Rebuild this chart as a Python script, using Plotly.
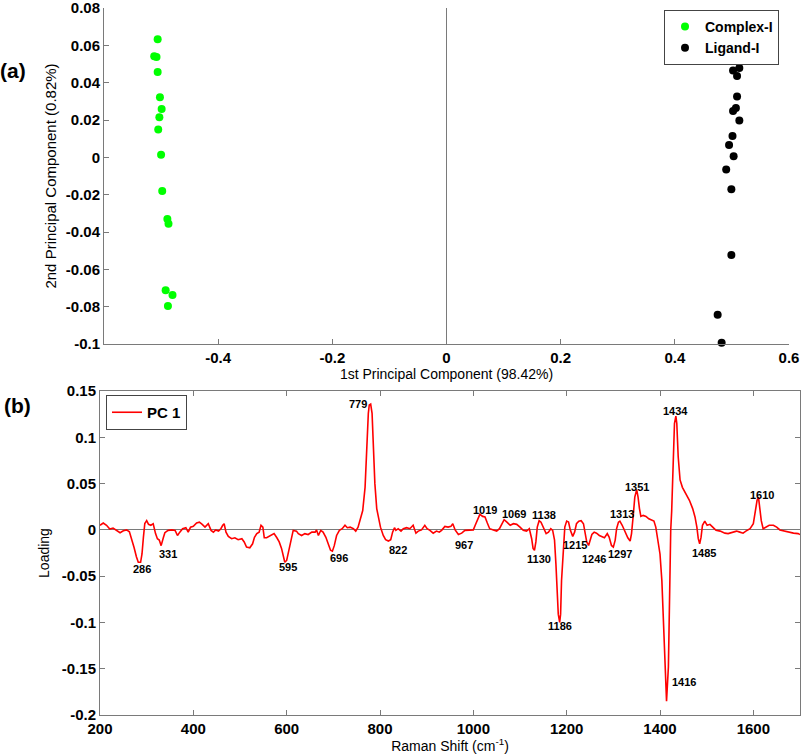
import numpy as np
import plotly.graph_objects as go

# ---------------- data: panel (a) PCA scores ----------------
complex_pc1 = [-0.506, -0.512, -0.508, -0.506, -0.502, -0.499, -0.503, -0.505,
               -0.500, -0.498, -0.489, -0.487, -0.492, -0.480, -0.488]
complex_pc2 = [0.0634, 0.0542, 0.0539, 0.0458, 0.0323, 0.0259, 0.0216, 0.0150,
               0.0015, -0.0180, -0.0330, -0.0355, -0.0712, -0.0737, -0.0796]
ligand_pc1 = [0.513, 0.502, 0.509, 0.509, 0.507, 0.502, 0.513, 0.501,
              0.495, 0.503, 0.490, 0.499, 0.499, 0.475, 0.482]
ligand_pc2 = [0.0479, 0.0466, 0.0436, 0.0326, 0.0265, 0.0249, 0.0198, 0.0115,
              0.0066, 0.0007, -0.0065, -0.0171, -0.0523, -0.0843, -0.0993]

# ---------------- data: panel (b) PC1 loading ----------------
raman_shift = [200, 207, 214, 221, 228, 236, 243, 250, 257, 263, 268, 273, 278, 282, 287, 290,
               293, 296, 300, 304, 309, 314, 319, 323, 327, 331, 336, 339, 346, 354, 361, 366,
               371, 377, 384, 389, 394, 400, 407, 413, 419, 425, 432, 438, 443, 448, 454, 459,
               463, 466, 470, 475, 482, 489, 496, 504, 509, 514, 521, 527, 531, 536, 541, 545,
               549, 552, 557, 563, 568, 573, 579, 584, 589, 593, 596, 600, 605, 610, 614, 621,
               625, 632, 639, 646, 654, 661, 664, 668, 673, 678, 684, 689, 694, 698, 702, 707,
               713, 719, 725, 730, 736, 743, 748, 753, 757, 763, 768, 771, 775, 777, 780, 783,
               786, 789, 793, 796, 801, 807, 812, 818, 823, 827, 831, 834, 839, 845, 850, 857,
               864, 871, 877, 882, 889, 896, 901, 907, 914, 921, 927, 932, 939, 946, 952, 956,
               961, 968, 975, 982, 993, 1000, 1004, 1009, 1014, 1020, 1025, 1030, 1035, 1043, 1050, 1056,
               1061, 1066, 1072, 1079, 1086, 1093, 1100, 1107, 1114, 1120, 1125, 1128, 1131, 1134, 1137, 1141,
               1145, 1150, 1156, 1161, 1166, 1170, 1174, 1177, 1180, 1182, 1185, 1187, 1189, 1193, 1196, 1200,
               1204, 1208, 1213, 1217, 1221, 1226, 1231, 1236, 1240, 1243, 1247, 1250, 1254, 1259, 1264, 1270,
               1276, 1281, 1287, 1291, 1296, 1300, 1304, 1307, 1311, 1314, 1319, 1325, 1331, 1336, 1339, 1343,
               1346, 1350, 1353, 1356, 1359, 1364, 1370, 1376, 1382, 1387, 1391, 1396, 1400, 1404, 1407, 1411,
               1414, 1418, 1420, 1421, 1423, 1425, 1428, 1431, 1434, 1436, 1439, 1443, 1448, 1456, 1463, 1470,
               1475, 1479, 1482, 1485, 1488, 1491, 1496, 1501, 1507, 1513, 1520, 1529, 1539, 1546, 1556, 1564,
               1571, 1578, 1584, 1593, 1600, 1604, 1608, 1611, 1613, 1617, 1621, 1627, 1634, 1643, 1650, 1657,
               1666, 1675, 1686, 1696, 1700]
loading = [0.005, 0.0074, 0.005, 0.001, 0.002, -0.001, -0.003, -0.001, 0.0, -0.002, -0.0095, -0.019, -0.029, -0.035, -0.035, -0.026,
           -0.008, 0.007, 0.010, 0.006, 0.005, 0.0067, -0.004, -0.0095, -0.011, -0.017, -0.008, -0.003, -0.0005, 0.0, -0.0005, -0.006,
           -0.0024, 0.0013, 0.0024, -0.0024, 0.003, 0.0038, 0.0074, 0.0084, 0.006, 0.003, 0.0067, -0.0005, -0.0024, 0.0, -0.0013, 0.0013,
           0.005, 0.0067, -0.0024, -0.007, -0.0095, -0.0085, -0.0106, -0.0095, -0.013, -0.0186, -0.0193, -0.015, -0.008, -0.004, -0.0024, 0.005,
           0.003, -0.0085, -0.0085, -0.007, -0.005, -0.004, -0.0085, -0.013, -0.020, -0.029, -0.035, -0.033, -0.022, -0.008, -0.0005, -0.0013,
           -0.004, -0.006, -0.004, -0.005, -0.0024, -0.0024, 0.0, -0.006, -0.0005, -0.0024, -0.008, -0.015, -0.022, -0.023, -0.017, -0.006,
           -0.0005, 0.0013, 0.005, 0.0024, 0.003, 0.0013, -0.0013, 0.003, 0.010, 0.021, 0.046, 0.090, 0.126, 0.135, 0.136, 0.126,
           0.090, 0.050, 0.023, 0.014, 0.003, -0.006, -0.0106, -0.012, -0.0106, -0.0024, 0.0024, -0.0005, 0.0013, -0.0013, 0.0013, 0.0024,
           0.0013, 0.005, -0.0035, -0.0013, 0.0, 0.005, 0.0013, -0.0005, -0.0035, -0.0013, -0.0024, -0.0005, 0.0038, 0.003, 0.0038, 0.0067,
           0.0, -0.005, -0.0035, -0.0005, 0.0, 0.0, 0.005, 0.010, 0.0168, 0.0146, 0.014, 0.0074, 0.0013, 0.0, -0.0013, 0.0013,
           0.0067, 0.011, 0.0084, 0.005, 0.0067, 0.006, 0.003, -0.0005, -0.0013, 0.0013, -0.0095, -0.020, -0.022, -0.013, 0.003, 0.010,
           0.0084, 0.003, -0.004, -0.0024, 0.0013, -0.0005, -0.011, -0.037, -0.069, -0.091, -0.100, -0.091, -0.055, -0.015, 0.003, 0.0095,
           0.0084, -0.0005, -0.007, -0.0024, 0.0067, 0.0095, 0.010, 0.0067, -0.004, -0.013, -0.0168, -0.011, -0.005, -0.0024, -0.0035, -0.006,
           -0.0078, -0.0085, -0.004, -0.0078, -0.0168, -0.0186, -0.011, 0.0013, 0.0084, 0.0095, 0.005, -0.0024, -0.0085, -0.012, -0.004, 0.0175,
           0.0355, 0.0435, 0.0355, 0.023, 0.0146, 0.0157, 0.0146, 0.012, 0.011, 0.0095, 0.003, -0.011, -0.026, -0.055, -0.091, -0.134,
           -0.185, -0.148, -0.091, -0.040, 0.0, 0.020, 0.082, 0.115, 0.123, 0.115, 0.079, 0.054, 0.046, 0.039, 0.032, 0.023,
           0.014, 0.003, -0.0095, -0.015, -0.0078, 0.005, 0.0095, 0.005, 0.006, 0.003, -0.0005, -0.0013, -0.0035, -0.004, -0.0024, -0.0013,
           -0.0024, -0.0035, -0.0013, 0.0013, 0.0067, 0.0175, 0.032, 0.0355, 0.028, 0.010, 0.0013, 0.003, 0.005, 0.005, 0.003, 0.0,
           -0.0013, -0.0024, -0.0035, -0.004, -0.005]

peak_labels = [286, 331, 595, 696, 779, 822, 967, 1019, 1069, 1130, 1138, 1186,
               1215, 1246, 1297, 1313, 1351, 1416, 1434, 1485, 1610]

# tick labels
a_xticks = [-0.4, -0.2, 0, 0.2, 0.4, 0.6]
a_xticktext = ["-0.4", "-0.2", "0", "0.2", "0.4", "0.6"]
a_yticks = [-0.1, -0.08, -0.06, -0.04, -0.02, 0, 0.02, 0.04, 0.06, 0.08]
a_yticktext = ["-0.1", "-0.08", "-0.06", "-0.04", "-0.02", "0", "0.02", "0.04", "0.06", "0.08"]
b_xticks = [200, 400, 600, 800, 1000, 1200, 1400, 1600]
b_xticktext = ["200", "400", "600", "800", "1000", "1200", "1400", "1600"]
b_yticks = [-0.2, -0.15, -0.1, -0.05, 0, 0.05, 0.1, 0.15]
b_yticktext = ["-0.2", "-0.15", "-0.1", "-0.05", "0", "0.05", "0.1", "0.15"]

# ---------------- styling / layout helpers ----------------
FONT = "Liberation Sans, Arial, sans-serif"
AXIS_GRAY = "#7a7a7a"
W, H = 803, 754


def px(xp):
    return xp / W


def py(yp):
    return 1 - yp / H


# label offsets in pixels (dx right, dy down) relative to the curve point; anchor
label_style = {
    286: (2, 7, "center"), 331: (7, 8, "center"), 595: (4, 7, "center"),
    696: (8, 7, "center"), 779: (-1, 0, "right"), 822: (8, 10, "center"),
    967: (6, 11, "center"), 1019: (3, -6, "center"), 1069: (8, -7, "center"),
    1130: (5, 9, "center"), 1138: (6, -11, "center"), 1186: (0, 8, "center"),
    1215: (1, 11, "center"), 1246: (6, 14, "center"), 1297: (8, 8, "center"),
    1313: (3, -7, "center"), 1351: (0, -5, "center"), 1416: (3, -2, "left"),
    1434: (0, -5, "center"), 1485: (4, 9, "center"), 1610: (4, -3, "center"),
}

fig = go.Figure()

fig.add_trace(go.Scatter(
    x=complex_pc1, y=complex_pc2, mode="markers", name="Complex-I",
    marker=dict(color="#00ff00", size=8), cliponaxis=False,
    xaxis="x", yaxis="y", legend="legend"))
fig.add_trace(go.Scatter(
    x=ligand_pc1, y=ligand_pc2, mode="markers", name="Ligand-I",
    marker=dict(color="#000000", size=8), cliponaxis=False,
    xaxis="x", yaxis="y", legend="legend"))
fig.add_trace(go.Scatter(
    x=raman_shift, y=loading, mode="lines", name="PC 1",
    line=dict(color="#ff0000", width=1.6),
    xaxis="x2", yaxis="y2", legend="legend2"))

tickfont = dict(family=FONT, size=15, color="black", weight="bold")
titlefont = dict(family=FONT, size=14, color="black")
common = dict(ticks="inside", ticklen=5, tickcolor=AXIS_GRAY, showline=True,
              linecolor=AXIS_GRAY, linewidth=1, showgrid=False, tickfont=tickfont,
              automargin=False, ticklabeloverflow="allow")

fig.update_layout(
    width=W, height=H,
    margin=dict(l=0, r=0, t=0, b=0),
    paper_bgcolor="white", plot_bgcolor="white",
    font=dict(family=FONT, color="black"),
    xaxis=dict(domain=[px(104), px(789)], anchor="y", range=[-0.6, 0.6],
               tickvals=a_xticks, ticktext=a_xticktext,
               zeroline=True, zerolinecolor=AXIS_GRAY, zerolinewidth=1,
               title=dict(text="1st Principal Component (98.42%)", font=titlefont, standoff=2),
               **common),
    yaxis=dict(domain=[py(344), py(8)], anchor="x", range=[-0.1, 0.0801],
               tickvals=a_yticks, ticktext=a_yticktext, zeroline=False,
               title=dict(text="2nd Principal Component (0.82%)",
                          font=dict(family=FONT, size=15, color="black"), standoff=5),
               **common),
    xaxis2=dict(domain=[px(100), px(800)], anchor="y2", range=[200, 1700],
                tickvals=b_xticks, ticktext=b_xticktext, mirror="allticks", zeroline=False,
                title=dict(text="Raman Shift (cm<sup>-1</sup>)", font=titlefont, standoff=2),
                **common),
    yaxis2=dict(domain=[py(715), py(391)], anchor="x2", range=[-0.2, 0.1501],
                tickvals=b_yticks, ticktext=b_yticktext, mirror="allticks",
                zeroline=True, zerolinecolor=AXIS_GRAY, zerolinewidth=1,
                title=dict(text="Loading", font=titlefont, standoff=8),
                **common),
    legend=dict(x=px(664), y=py(10), xanchor="left", yanchor="top",
                bgcolor="white", bordercolor="#444", borderwidth=1,
                font=dict(family=FONT, size=14, color="black", weight="bold"),
                itemwidth=30, tracegroupgap=0),
    legend2=dict(x=px(106), y=py(395), xanchor="left", yanchor="top",
                 bgcolor="white", bordercolor="#444", borderwidth=1,
                 font=dict(family=FONT, size=15, color="black", weight="bold"),
                 itemwidth=30),
)

# peak annotations anchored on the curve
for p in peak_labels:
    dx, dy, anchor = label_style[p]
    yv = float(np.interp(p, raman_shift, loading))
    fig.add_annotation(x=p, y=yv, xref="x2", yref="y2", text=str(p), showarrow=False,
                       xanchor=anchor, yanchor="middle", xshift=dx, yshift=-dy,
                       font=dict(family=FONT, size=11, color="black", weight="bold"))

# panel letters
fig.add_annotation(x=px(13), y=py(71), xref="paper", yref="paper", text="(a)",
                   showarrow=False, xanchor="center", yanchor="middle",
                   font=dict(family=FONT, size=21, color="black", weight="bold"))
fig.add_annotation(x=px(17), y=py(405), xref="paper", yref="paper", text="(b)",
                   showarrow=False, xanchor="center", yanchor="middle",
                   font=dict(family=FONT, size=21, color="black", weight="bold"))

fig.write_html(
    "out.html",
    config={"displayModeBar": False},
    post_script="document.body.style.margin='0px';document.body.style.overflow='hidden';",
)
